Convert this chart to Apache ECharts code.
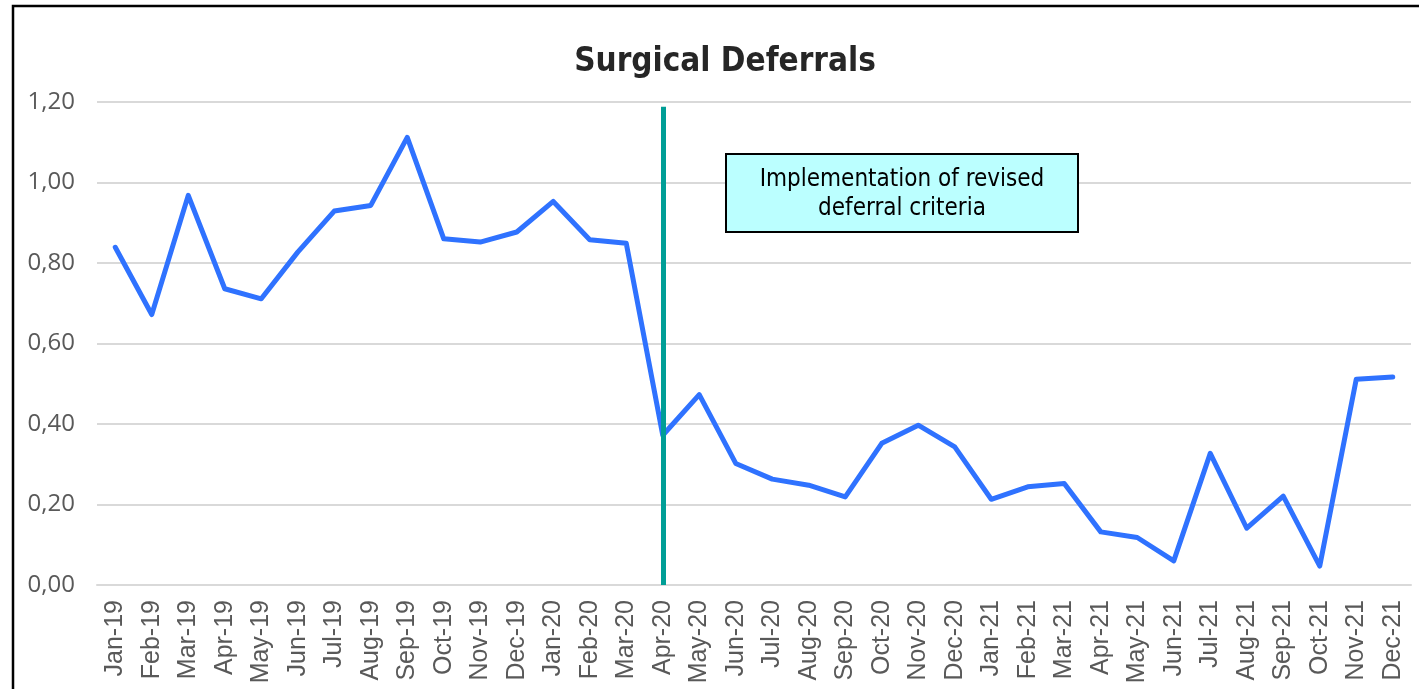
<!DOCTYPE html>
<html>
<head>
<meta charset="utf-8">
<script src="https://cdn.jsdelivr.net/npm/echarts@6/dist/echarts.min.js"></script>
<style>
  html, body { margin: 0; padding: 0; background: #fff; }
  #chart { width: 1419px; height: 689px; }
</style>
</head>
<body>
<div id="chart"></div>
<script>
// months on the x axis
const months = [
  'Jan-19', 'Feb-19', 'Mar-19', 'Apr-19', 'May-19', 'Jun-19', 'Jul-19', 'Aug-19', 'Sep-19', 'Oct-19', 'Nov-19', 'Dec-19',
  'Jan-20', 'Feb-20', 'Mar-20', 'Apr-20', 'May-20', 'Jun-20', 'Jul-20', 'Aug-20', 'Sep-20', 'Oct-20', 'Nov-20', 'Dec-20',
  'Jan-21', 'Feb-21', 'Mar-21', 'Apr-21', 'May-21', 'Jun-21', 'Jul-21', 'Aug-21', 'Sep-21', 'Oct-21', 'Nov-21', 'Dec-21'
]
// deferral rate per month
const deferrals = [
  0.839, 0.672, 0.968, 0.736, 0.711, 0.827, 0.929, 0.943, 1.112, 0.860, 0.852, 0.877,
  0.953, 0.858, 0.849, 0.372, 0.473, 0.302, 0.263, 0.248, 0.219, 0.352, 0.397, 0.343,
  0.213, 0.244, 0.252, 0.132, 0.118, 0.060, 0.327, 0.141, 0.221, 0.047, 0.511, 0.517
]
const yTicks = { min: 0, max: 1.2, interval: 0.2 }
// revised criteria marker
const markerMonth = 'Apr-20'
const markerTop = 1.188
const noteText = 'Implementation of revised\ndeferral criteria'

const chart = echarts.init(document.getElementById('chart'))
chart.setOption({
  animation: false,
  grid: { left: 97, right: 8, top: 102, bottom: 104 },
  graphic: [
    { type: 'rect', z: 100, shape: { x: 13, y: 6, width: 1500, height: 800 }, style: { fill: 'none', stroke: '#000', lineWidth: 2.5 } },
    { type: 'text', z: 100, x: 725, y: 62, style: { text: 'Surgical Deferrals', font: 'bold 33px "DejaVu Sans Condensed", "DejaVu Sans", sans-serif', fill: '#262626', align: 'center', verticalAlign: 'middle' } },
    { type: 'rect', z: 100, shape: { x: 726, y: 154, width: 352, height: 78 }, style: { fill: '#BBFFFF', stroke: '#000', lineWidth: 2 } },
    { type: 'text', z: 101, x: 902, y: 194, style: { text: noteText, font: '24px "DejaVu Sans Condensed", "DejaVu Sans", sans-serif', fill: '#000', align: 'center', verticalAlign: 'middle', lineHeight: 29 } }
  ],
  xAxis: {
    type: 'category',
    data: months,
    axisLine: { lineStyle: { color: '#d9d9d9', width: 2 } },
    axisTick: { length: 8, lineStyle: { color: '#d9d9d9', width: 2 } },
    axisLabel: { rotate: 90, margin: 15, color: '#595959', fontSize: 25, fontFamily: 'Liberation Sans', interval: 0 }
  },
  yAxis: {
    type: 'value',
    min: yTicks.min,
    max: yTicks.max,
    interval: yTicks.interval,
    axisLine: { show: false },
    axisTick: { show: false },
    splitLine: { lineStyle: { color: '#d9d9d9', width: 2 } },
    axisLabel: {
      margin: 22, color: '#595959', fontSize: 24, fontFamily: 'Open Sans',
      formatter: v => v.toFixed(2).replace('.', ',')
    }
  },
  series: [{
    type: 'line',
    data: deferrals,
    symbol: 'none',
    lineStyle: { color: '#2F72FF', width: 5, cap: 'round', join: 'round' },
    markLine: {
      silent: true,
      symbol: 'none',
      label: { show: false },
      lineStyle: { color: '#009E96', width: 5, type: 'solid' },
      z: 10,
      data: [[{ coord: [markerMonth, markerTop] }, { coord: [markerMonth, 0] }]]
    }
  }]
})
</script>
</body>
</html>
